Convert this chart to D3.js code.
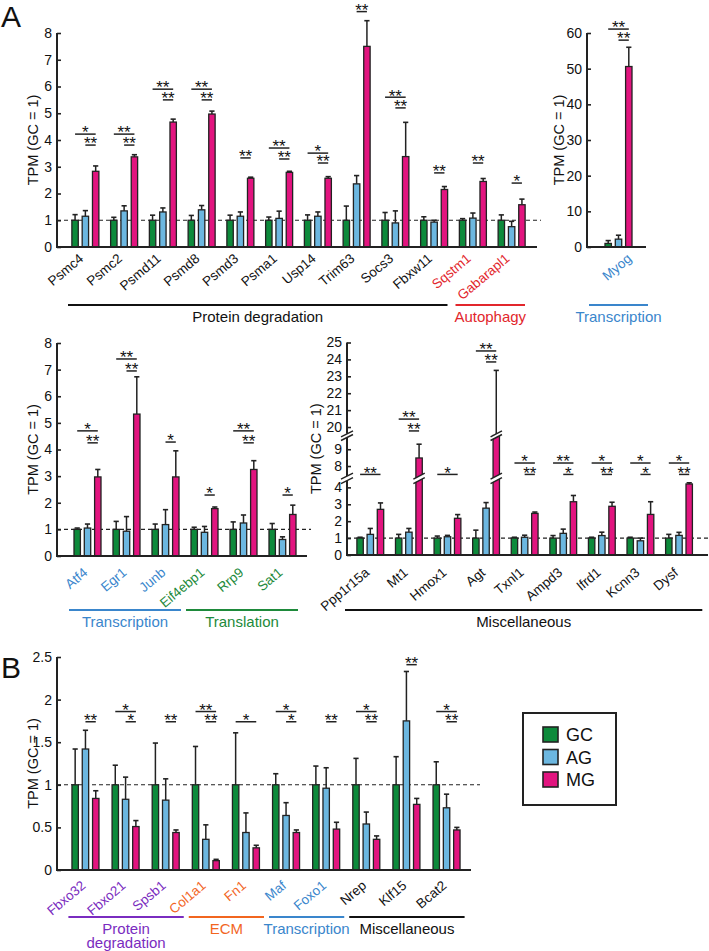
<!DOCTYPE html>
<html><head><meta charset="utf-8">
<script src="https://cdn.jsdelivr.net/npm/d3@7"></script>
<style>body{margin:0;background:#fff;} text{font-family:"Liberation Sans",Arial,Helvetica,sans-serif;fill:#111;}</style>
</head><body><script>
// ---------------- DATA ----------------
const series = ["GC","AG","MG"];

// Panel A, top-left
const aGenes = ["Psmc4","Psmc2","Psmd11","Psmd8","Psmd3","Psma1","Usp14","Trim63","Socs3","Fbxw11","Sqstm1","Gabarapl1"];
const aCat = ["black","black","black","black","black","black","black","black","black","black","red","red"];
const aGC = [1,1,1,1,1,1,1,1,1,1,1,1];
const aGCerr = [0.21,0.11,0.19,0.18,0.19,0.12,0.2,0.53,0.29,0.13,0.06,0.2];
const aAG = [1.15,1.35,1.31,1.39,1.15,1.07,1.15,2.36,0.9,0.93,1.08,0.76];
const aAGerr = [0.21,0.19,0.15,0.16,0.16,0.27,0.16,0.31,0.45,0.07,0.19,0.2];
const aMG = [2.83,3.37,4.67,4.97,2.57,2.79,2.57,7.5,3.38,2.15,2.45,1.58];
const aMGerr = [0.2,0.08,0.11,0.11,0.04,0.04,0.06,0.96,1.28,0.11,0.11,0.21];
const aSigLong = ["*","**","**","**","","**","*","","**","","",""];
const aSigShort = ["**","**","**","**","**","**","**","**","**","**","**","*"];
const aSigLongAt = [4.22,4.22,5.9,5.9,0,3.7,3.51,0,5.6,0,0,0];
const aSigShortAt = [3.81,3.81,5.5,5.5,3.33,3.29,3.14,8.8,5.2,2.77,3.14,2.39];
const aTicks = [0,1,2,3,4,5,6,7,8];
const aGroups = [{name:"Protein degradation",first:0,last:9,cat:"black"},{name:"Autophagy",first:10,last:11,cat:"red"}];

// Panel A, Myog
const mGenes = ["Myog"];
const mCat = ["blue"];
const mGC = [1]; const mGCerr = [0.8];
const mAG = [2.2]; const mAGerr = [1.1];
const mMG = [50.6]; const mMGerr = [5.4];
const mSigLong = ["**"]; const mSigShort = ["**"];
const mSigLongAt = [61.1]; const mSigShortAt = [58];
const mTicks = [0,10,20,30,40,50,60];
const mGroups = [{name:"Transcription",first:0,last:0,cat:"blue"}];

// Panel A, middle-left
const lGenes = ["Atf4","Egr1","Junb","Eif4ebp1","Rrp9","Sat1"];
const lCat = ["blue","blue","blue","green","green","green"];
const lGC = [1,1,1,1,1,1];
const lGCerr = [0.05,0.3,0.2,0.08,0.28,0.22];
const lAG = [1.05,0.93,1.18,0.89,1.24,0.62];
const lAGerr = [0.15,0.55,0.56,0.22,0.3,0.1];
const lMG = [2.97,5.33,2.97,1.78,3.25,1.56];
const lMGerr = [0.28,1.4,0.98,0.06,0.33,0.35];
const lSigLong = ["*","**","","","**",""];
const lSigShort = ["**","**","*","*","**","*"];
const lSigLongAt = [4.7,7.4,0,0,4.7,0];
const lSigShortAt = [4.25,6.95,4.28,2.29,4.25,2.29];
const lTicks = [0,1,2,3,4,5,6,7,8];
const lGroups = [{name:"Transcription",first:0,last:2,cat:"blue"},{name:"Translation",first:3,last:5,cat:"green"}];

// Panel A, middle-right (broken axis)
const rGenes = ["Ppp1r15a","Mt1","Hmox1","Agt","Txnl1","Ampd3","Ifrd1","Kcnn3","Dysf"];
const rCat = ["black","black","black","black","black","black","black","black","black"];
const rGC = [1,1,1,1,1,1,1,1,1];
const rGCerr = [0.05,0.22,0.12,0.47,0.05,0.15,0.05,0.05,0.22];
const rAG = [1.22,1.35,1.08,2.77,1.05,1.28,1.15,0.84,1.16];
const rAGerr = [0.35,0.22,0.08,0.33,0.12,0.25,0.2,0.16,0.18];
const rMG = [2.7,8.48,2.17,15,2.46,3.15,2.88,2.4,4.2];
const rMGerr = [0.38,0.82,0.22,8.35,0.08,0.37,0.24,0.75,0.07];
const rSigLong = ["**","**","*","**","*","**","*","*","*"];
const rSigShort = ["","**","","**","**","*","**","*","**"];
const rSigLongAt = [7.5,20.47,7.5,24.5,8.18,8.18,8.18,8.18,8.18];
const rSigShortAt = [0,19.77,0,23.85,7.5,7.5,7.5,7.5,7.5];
const rTicks = [0,1,2,3,4,8,9,20,21,22,23,24,25];
const rSegments = [[0,4.4],[7.4,9.7],[19.6,25]];
const rGroups = [{name:"Miscellaneous",first:0,last:8,cat:"black"}];

// Panel B
const bGenes = ["Fbxo32","Fbxo21","Spsb1","Col1a1","Fn1","Maf","Foxo1","Nrep","Klf15","Bcat2"];
const bCat = ["purple","purple","purple","orange","orange","blue","blue","black","black","black"];
const bGC = [1,1,1,1,1,1,1,1,1,1];
const bGCerr = [0.42,0.23,0.49,0.45,0.61,0.13,0.22,0.31,0.33,0.27];
const bAG = [1.42,0.83,0.82,0.36,0.44,0.64,0.96,0.54,1.75,0.73];
const bAGerr = [0.22,0.26,0.25,0.17,0.23,0.15,0.24,0.14,0.58,0.16];
const bMG = [0.84,0.51,0.44,0.11,0.26,0.44,0.48,0.36,0.77,0.47];
const bMGerr = [0.09,0.07,0.03,0.015,0.03,0.03,0.08,0.04,0.07,0.03];
const bSigLong = ["","*","","**","*","*","","*","","*"];
const bSigShort = ["**","*","**","**","","*","**","**","**","**"];
const bSigLongAt = [0,1.86,0,1.86,1.74,1.86,0,1.86,0,1.86];
const bSigShortAt = [1.74,1.74,1.74,1.74,0,1.74,1.74,1.74,2.41,1.74];
const bTicks = [0,0.5,1,1.5,2,2.5];
const bGroups = [{name:"Protein|degradation",first:0,last:2,cat:"purple"},{name:"ECM",first:3,last:4,cat:"orange"},
                 {name:"Transcription",first:5,last:6,cat:"blue"},{name:"Miscellaneous",first:7,last:9,cat:"black"}];

// ---------------- STYLE ----------------
const fill = {GC:"#0d8a3b", AG:"#6cb7e0", MG:"#e2147f"};
const catColor = {black:"#111", red:"#e2262c", blue:"#3a86cc", green:"#1e8a3b", purple:"#7a2cc0", orange:"#f2661f"};
const STROKE = "#222";

const svg = d3.select("body").append("svg").attr("width",709).attr("height",951);

function drawPanel(p){
  const g = svg.append("g");
  const x = d3.scaleBand().domain(p.genes).range(p.xRange);
  const y = p.y;
  const base = y(0);
  const top = y(p.ticks[p.ticks.length-1]);
  const cxOf = d => x(d) + x.bandwidth()/2;
  const off = p.off || 10.3, bw = p.bw || 6.4;
  const vals = {GC:p.gc, AG:p.ag, MG:p.mg}, errs = {GC:p.gce, AG:p.age, MG:p.mge};

  // reference dashed line at 1
  if (p.dashEnd > p.axisX0)
    g.append("line").attr("x1",p.axisX0).attr("x2",p.dashEnd).attr("y1",y(1)).attr("y2",y(1))
      .attr("stroke","#222").attr("stroke-width",1.1).attr("stroke-dasharray","4,3");

  const rows = [];
  p.genes.forEach((gn,i)=>series.forEach((s,j)=>rows.push({gene:gn,s,j,v:vals[s][i],e:errs[s][i]})));
  const bx = r => cxOf(r.gene) + (r.j-1)*off;

  // error bars (under bars)
  const eb = g.append("g").attr("stroke",STROKE).attr("stroke-width",1.5);
  rows.forEach(r=>{
    eb.append("line").attr("x1",bx(r)).attr("x2",bx(r)).attr("y1",y(r.v)).attr("y2",y(r.v+r.e));
    eb.append("line").attr("x1",bx(r)-2.6).attr("x2",bx(r)+2.6).attr("y1",y(r.v+r.e)).attr("y2",y(r.v+r.e)).attr("stroke-width",1.6);
  });

  g.append("g").selectAll("rect").data(rows).join("rect")
    .attr("x",r=>bx(r)-bw/2).attr("width",bw)
    .attr("y",r=>y(r.v)).attr("height",r=>base-y(r.v))
    .attr("fill",r=>fill[r.s]).attr("stroke",STROKE).attr("stroke-width",1.3);

  // axes
  g.append("line").attr("x1",p.axisX0).attr("x2",p.axisX1).attr("y1",base).attr("y2",base)
    .attr("stroke",STROKE).attr("stroke-width",2);
  const segs = p.segments || [[p.ticks[0],p.ticks[p.ticks.length-1]]];
  segs.forEach(sg=>g.append("line").attr("x1",p.axisX0).attr("x2",p.axisX0)
    .attr("y1",y(sg[0])+ (sg[0]===0?1:0)).attr("y2",y(sg[1])).attr("stroke",STROKE).attr("stroke-width",2));
  const ax = g.append("g").attr("transform",`translate(${p.axisX0},0)`)
    .call(d3.axisLeft(y).tickValues(p.ticks).tickSize(-4).tickPadding(5).tickFormat(d=>String(d)));
  ax.select(".domain").remove();
  ax.selectAll(".tick line").attr("stroke",STROKE).attr("stroke-width",1.6);
  ax.selectAll(".tick text").attr("font-size",14).attr("fill","#111")
    .attr("font-family",'"Liberation Sans",Arial,sans-serif');

  // breaks
  if (p.segments){
    const drawBreak = (cx,hw,a,b)=>{
      const yt = y(b), yb = y(a), s = 3;
      const bg = g.append("g");
      bg.append("polygon").attr("points",[[cx-hw,yt+s],[cx+hw,yt-s],[cx+hw,yb-s],[cx-hw,yb+s]].map(q=>q.join(",")).join(" "))
        .attr("fill","#fff");
      [yt,yb].forEach(yy=>bg.append("line").attr("x1",cx-hw).attr("x2",cx+hw).attr("y1",yy+s).attr("y2",yy-s)
        .attr("stroke",STROKE).attr("stroke-width",1.5));
    };
    for (let k=0;k<p.segments.length-1;k++){
      const a = p.segments[k][1], b = p.segments[k+1][0];
      drawBreak(p.axisX0,6,a,b);
      rows.forEach(r=>{ if (r.v > a) drawBreak(bx(r),bw/2+2.5,a,b); });
    }
  }

  // y label
  g.append("text").attr("transform",`translate(${p.yLabelX},${(base+top)/2}) rotate(-90)`)
    .attr("text-anchor","middle").attr("font-size",14.5).text("TPM (GC = 1)");

  // x labels
  const ldx = p.labelDx || 0, ldy = p.labelDy || 13;
  g.selectAll("text.xl").data(p.genes).join("text").attr("class","xl")
    .attr("transform",d=>`translate(${cxOf(d)+ldx},${base+ldy}) rotate(-40)`)
    .attr("text-anchor","end").attr("font-size",13.5)
    .style("fill",(d,i)=>catColor[p.cat[i]]).text(d=>d);

  // significance: long bracket (GC vs MG) and short bracket (AG vs MG), one text element per gene
  const sg = g.append("g");
  p.genes.forEach((gn,i)=>{
    const cx = cxOf(gn);
    const marks = [];
    if (p.sigLong[i]) marks.push({label:p.sigLong[i], at:p.sigLongAt[i], x1:cx-off, x2:cx+off});
    if (p.sigShort[i]) marks.push({label:p.sigShort[i], at:p.sigShortAt[i], x1:cx, x2:cx+off});
    if (!marks.length) return;
    const t = sg.append("text").attr("text-anchor","middle").attr("font-size",17);
    marks.forEach(m=>{
      const yy = y(m.at);
      sg.append("line").attr("x1",m.x1).attr("x2",m.x2).attr("y1",yy).attr("y2",yy).attr("stroke",STROKE).attr("stroke-width",1.5);
      t.append("tspan").attr("x",(m.x1+m.x2)/2).attr("y",yy+4.3).text(m.label);
    });
  });

  // groups
  p.groups.forEach(gr=>{
    const x1 = x(p.genes[gr.first]) + p.gin[0], x2 = x(p.genes[gr.last]) + x.bandwidth() - p.gin[1];
    const col = catColor[gr.cat];
    g.append("line").attr("x1",x1).attr("x2",x2).attr("y1",p.groupY).attr("y2",p.groupY)
      .attr("stroke",col).attr("stroke-width",2);
    const t = g.append("text").attr("text-anchor","middle").attr("font-size",15).style("fill",col);
    gr.name.split("|").forEach((s,k)=>t.append("tspan").attr("x",(x1+x2)/2).attr("y",p.groupY+17+k*14).text(s));
  });
}

drawPanel({genes:aGenes,cat:aCat,gc:aGC,gce:aGCerr,ag:aAG,age:aAGerr,mg:aMG,mge:aMGerr,
  sigLong:aSigLong,sigShort:aSigShort,sigLongAt:aSigLongAt,sigShortAt:aSigShortAt,ticks:aTicks,groups:aGroups,
  y:d3.scaleLinear().domain([0,8]).range([247,33]), xRange:[66,531], axisX0:57, axisX1:537, dashEnd:541,
  yLabelX:38, groupY:305, gin:[2,6], labelDx:-1, labelDy:13});

drawPanel({genes:mGenes,cat:mCat,gc:mGC,gce:mGCerr,ag:mAG,age:mAGerr,mg:mMG,mge:mMGerr,
  sigLong:mSigLong,sigShort:mSigShort,sigLongAt:mSigLongAt,sigShortAt:mSigShortAt,ticks:mTicks,groups:mGroups,
  y:d3.scaleLinear().domain([0,60]).range([247,33]), xRange:[590,647], axisX0:587, axisX1:646, dashEnd:587,
  yLabelX:564, groupY:305, gin:[-1,-1], labelDx:14, labelDy:13});

drawPanel({genes:lGenes,cat:lCat,gc:lGC,gce:lGCerr,ag:lAG,age:lAGerr,mg:lMG,mge:lMGerr,
  sigLong:lSigLong,sigShort:lSigShort,sigLongAt:lSigLongAt,sigShortAt:lSigShortAt,ticks:lTicks,groups:lGroups,
  y:d3.scaleLinear().domain([0,8]).range([556,343]), xRange:[68,302], axisX0:57, axisX1:307, dashEnd:311,
  yLabelX:38, groupY:610, gin:[1,4], labelDx:1, labelDy:18});

drawPanel({genes:rGenes,cat:rCat,gc:rGC,gce:rGCerr,ag:rAG,age:rAGerr,mg:rMG,mge:rMGerr,
  sigLong:rSigLong,sigShort:rSigShort,sigLongAt:rSigLongAt,sigShortAt:rSigShortAt,ticks:rTicks,groups:rGroups,
  segments:rSegments, off:10.2, bw:6.4,
  y:d3.scaleLinear().domain([0,4.4,7.4,9.7,19.6,25]).range([555,480.6,476.1,437.5,433.8,342.5]),
  xRange:[351,698.3], axisX0:347, axisX1:708, dashEnd:708,
  yLabelX:321, groupY:610, gin:[-6,-4], labelDx:0, labelDy:19});

drawPanel({genes:bGenes,cat:bCat,gc:bGC,gce:bGCerr,ag:bAG,age:bAGerr,mg:bMG,mge:bMGerr,
  sigLong:bSigLong,sigShort:bSigShort,sigLongAt:bSigLongAt,sigShortAt:bSigShortAt,ticks:bTicks,groups:bGroups,
  y:d3.scaleLinear().domain([0,2.5]).range([870,657]), xRange:[65.4,466.6], axisX0:57, axisX1:471, dashEnd:480,
  yLabelX:38, groupY:917, gin:[3,2], labelDx:1, labelDy:17});

// panel letters
svg.append("text").attr("x",1).attr("y",27).attr("font-size",30).text("A");
svg.append("text").attr("x",1).attr("y",678).attr("font-size",30).text("B");

// legend
const lg = svg.append("g");
lg.append("rect").attr("x",523).attr("y",713).attr("width",93).attr("height",92).attr("fill","#fff")
  .attr("stroke",STROKE).attr("stroke-width",2);
series.forEach((s,i)=>{
  lg.append("rect").attr("x",543).attr("y",727+i*22.5).attr("width",15).attr("height",15)
    .attr("fill",fill[s]).attr("stroke",STROKE).attr("stroke-width",1.6);
  lg.append("text").attr("x",566).attr("y",741+i*22.5).attr("font-size",18).text(s);
});
</script></body></html>
